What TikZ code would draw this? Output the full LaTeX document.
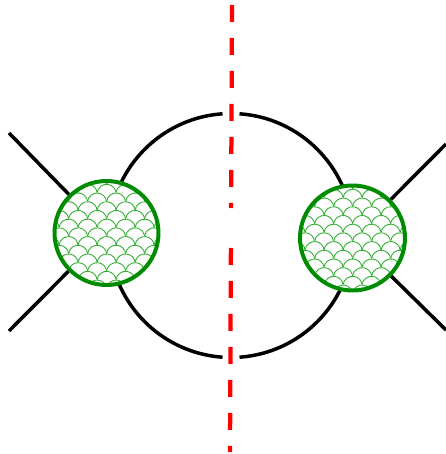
\documentclass[tikz,border=0pt]{standalone}
\usepackage{tikz}
\definecolor{blobgreen}{RGB}{0,140,0}
\definecolor{scalegreen}{RGB}{50,175,50}
\tikzset{
  line/.style={line width=0.07cm,black},
  cut/.style={line width=0.085cm,red,dash pattern=on 0.34cm off 0.32cm},
  blob/.style={circle,draw=blobgreen,line width=0.08cm,fill=white,inner sep=0pt,
    minimum size=2.08cm,
    path picture={
      \foreach \i [evaluate=\i as \dx using {mod(\i,2)*9.5}] in {0,...,15}
        \foreach \j in {-4,...,4}
          \draw[scalegreen,line width=0.5pt]
            ([shift={(\j*19+\dx-9.4,\i*8.7-64)}]path picture bounding box.center)
            arc[start angle=172,end angle=8,radius=9.6];
    }},
}
\begin{document}
\begin{tikzpicture}[x=0.02cm,y=0.02cm]
  \useasboundingbox (0,0) rectangle (446,454);

  \coordinate (o)  at (231,218.5);
  \coordinate (tl) at (222.5,340.2);
  \coordinate (tr) at (239.5,340.2);
  \coordinate (p1) at (9,321);
  \coordinate (p2) at (9,123);
  \coordinate (p3) at (446,310);
  \coordinate (p4) at (446,124);
  \coordinate (c1) at (232,449);
  \coordinate (c2) at (231.1,246);
  \coordinate (c3) at (230.9,206);
  \coordinate (c4) at (230,2);

  \draw[line] (tl) arc[start angle=94,end angle=266,radius=122];
  \draw[line] (tr) arc[start angle=86,end angle=-86,radius=122];

  \node[blob] (lblob) at (106.5,221) {};
  \node[blob,minimum size=2.1cm] (rblob) at (352.5,216) {};

  \draw[line] (p1) -- (lblob);
  \draw[line] (p2) -- (lblob);
  \draw[line] (p3) -- (rblob);
  \draw[line] (p4) -- (rblob);

  \draw[cut] (c1) -- (c2);
  \draw[cut] (c3) -- (c4);
\end{tikzpicture}
\end{document}
